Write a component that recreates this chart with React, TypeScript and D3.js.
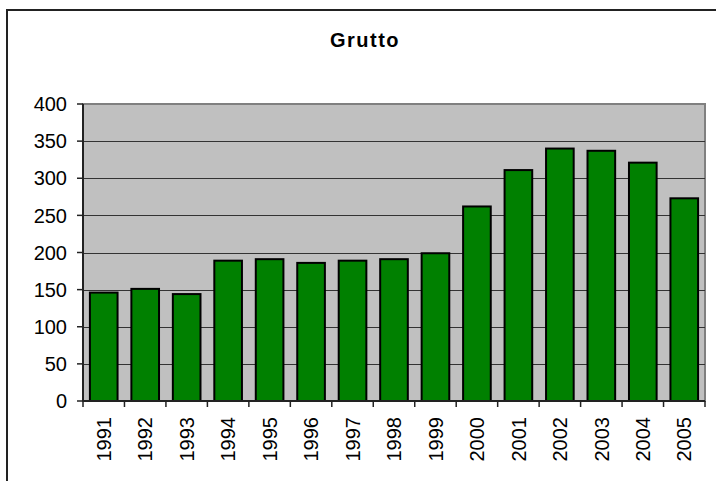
import React from 'react';
import * as d3 from 'd3';

const years = ['1991', '1992', '1993', '1994', '1995', '1996', '1997', '1998', '1999', '2000', '2001', '2002', '2003', '2004', '2005'];
const counts = [146, 151, 144, 189, 191, 186, 189, 191, 199, 262, 311, 340, 337, 321, 273];
const yTicks = [0, 50, 100, 150, 200, 250, 300, 350, 400];
const title = 'Grutto';

const W = 716;
const H = 481;
const plot = { left: 83, right: 705, top: 104, bottom: 401 };

const App: React.FC = () => {
  const x = d3.scaleBand<string>()
    .domain(years)
    .range([plot.left, plot.right])
    .paddingInner(1 / 3)
    .paddingOuter(1 / 6);

  const y = d3.scaleLinear()
    .domain([0, 400])
    .range([plot.bottom, plot.top]);

  const step = x.step();
  const font = 'Arial, "Liberation Sans", sans-serif';

  return (
    <svg width={W} height={H} style={{ position: 'absolute', left: 0, top: 0, background: '#fff' }}>
      {/* chart border (cropped at right and bottom) */}
      <rect x={7} y={10} width={716} height={490} fill="#fff" stroke="#222" strokeWidth={2} />

      <text x={365} y={47} textAnchor="middle" fontFamily={font} fontWeight="bold" fontSize={20} letterSpacing={1.5} fill="#000">
        {title}
      </text>

      {/* plot area */}
      <rect x={plot.left} y={plot.top} width={plot.right - plot.left} height={plot.bottom - plot.top}
        fill="#c0c0c0" stroke="#808080" strokeWidth={2} />

      {/* gridlines */}
      {yTicks.filter(t => t > 0 && t < 400).map(t => (
        <line key={t} x1={plot.left} x2={plot.right} y1={Math.round(y(t)) + 0.5} y2={Math.round(y(t)) + 0.5}
          stroke="#333" strokeWidth={1.2} />
      ))}

      {/* bars */}
      {years.map((yr, i) => (
        <rect key={yr} x={x(yr)} y={y(counts[i])} width={x.bandwidth()} height={y(0) - y(counts[i])}
          fill="#008000" stroke="#000" strokeWidth={2} />
      ))}

      {/* y axis */}
      <line x1={plot.left} x2={plot.left} y1={plot.top} y2={plot.bottom} stroke="#222" strokeWidth={2} />
      {yTicks.map(t => (
        <g key={t}>
          <line x1={plot.left - 6} x2={plot.left} y1={y(t)} y2={y(t)} stroke="#222" strokeWidth={1.5} />
          <text x={67} y={y(t)} dy="0.36em" textAnchor="end" fontFamily={font} fontSize={20} fill="#000">{t}</text>
        </g>
      ))}

      {/* x axis */}
      <line x1={plot.left} x2={plot.right} y1={plot.bottom} y2={plot.bottom} stroke="#222" strokeWidth={2} />
      {d3.range(years.length + 1).map(i => (
        <line key={i} x1={plot.left + i * step} x2={plot.left + i * step} y1={plot.bottom} y2={plot.bottom + 6}
          stroke="#222" strokeWidth={1.5} />
      ))}
      {years.map(yr => {
        const cx = (x(yr) ?? 0) + x.bandwidth() / 2;
        return (
          <text key={yr} transform={`translate(${cx},417) rotate(-90)`} dy="0.36em" textAnchor="end"
            fontFamily={font} fontSize={20} fill="#000">{yr}</text>
        );
      })}
    </svg>
  );
};

export default App;
